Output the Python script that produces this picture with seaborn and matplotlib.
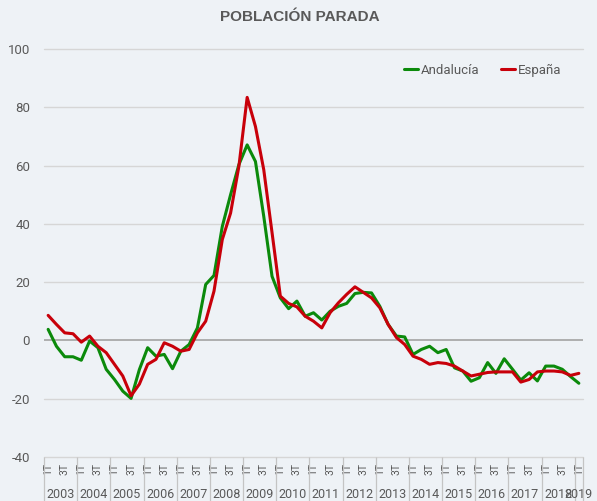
import numpy as np
import pandas as pd
import matplotlib
matplotlib.use("Agg")
import matplotlib.pyplot as plt
import matplotlib.transforms as mtransforms
import seaborn as sns

years = list(range(2003, 2020))
quarters = ["1T", "2T", "3T", "4T"]
periods = [f"{q} {y}" for y in years for q in quarters][:65]

andalucia = [3.8, -2, -5.6, -5.6, -6.8, -0.2, -2.5, -9.9, -13.4, -17.4,
             -19.9, -10, -2.5, -5.4, -4.8, -9.7, -3.7, -1.4, 4.3, 19.2,
             22.3, 39.1, 50, 60.3, 67.1, 61.4, 42.6, 22, 14.6, 10.9,
             13.5, 8.3, 9.5, 7, 10, 11.7, 12.7, 16.1, 16.5, 16.3,
             11.7, 5.5, 1.5, 1.2, -4.8, -3.1, -2, -4.2, -3.1, -9.4,
             -10.5, -14, -12.8, -7.6, -11.3, -6.3, -9.9, -13.6, -11.1, -13.9,
             -8.8, -8.8, -9.9, -12.4, -14.7]
espana = [8.6, 5.5, 2.6, 2.3, -0.6, 1.5, -2, -4.2, -8.2, -12.2,
          -19, -15, -8.2, -6.5, -0.8, -2, -3.7, -3.1, 2.6, 6.6,
          16.9, 34.6, 43.7, 59.7, 83.4, 73.4, 58.6, 37, 15.2, 12.7,
          11.5, 8.3, 6.6, 4.3, 9.5, 12.9, 15.8, 18.4, 16.5, 14.6,
          11.2, 5.5, 1, -1.4, -5.4, -6.5, -8.2, -7.6, -7.9, -8.8,
          -10.5, -12.2, -11.6, -11, -10.8, -10.8, -10.8, -14.3, -13.4, -10.8,
          -10.5, -10.5, -10.8, -12, -11.3]
series_names = ["Andalucía", "España"]
colors = ["#0b8a0b", "#c8000a"]
y_ticks = [-40, -20, 0, 20, 40, 60, 80, 100]

bg = "#eef2f6"
txt = "#595959"

n = len(periods)
idx = np.arange(n)
df = pd.DataFrame({
    "i": np.concatenate([idx, idx]),
    "valor": andalucia + espana,
    "serie": [series_names[0]] * n + [series_names[1]] * n,
})

sns.set_theme(style="white")
plt.rcParams["font.family"] = ["Roboto", "DejaVu Sans"]

fig = plt.figure(figsize=(5.97, 5.01), dpi=100, facecolor=bg)
ax = fig.add_axes([44 / 597, 1 - 457 / 501, (583 - 44) / 597, (457 - 49) / 501])
ax.set_facecolor(bg)

sns.lineplot(data=df, x="i", y="valor", hue="serie", palette=colors,
             linewidth=2.2, ax=ax, legend=True)

ax.set_xlim(-0.5, n - 0.5)
ax.set_ylim(-40, 100)
ax.set_yticks(y_ticks)
ax.set_yticklabels([str(v) for v in y_ticks], color=txt, fontsize=9.5)
for v in y_ticks:
    if v == 0:
        ax.axhline(v, color="#a3a3a3", lw=1.2, zorder=1)
    else:
        ax.axhline(v, color="#d6d6d6", lw=1.0, zorder=0, clip_on=False)

for s in ax.spines.values():
    s.set_visible(False)

# quarter tick labels (1T, 3T)
maj = [i for i, p in enumerate(periods) if p.startswith("1T") or p.startswith("3T")]
ax.set_xticks(maj)
ax.set_xticklabels([periods[i].split()[0] for i in maj], rotation=90,
                   fontsize=7.5, color=txt)
# year separators
bounds = [i - 0.5 for i, p in enumerate(periods) if p.startswith("1T")] + [n - 0.5]
ax.set_xticks(bounds, minor=True)
ax.tick_params(axis="x", which="both", bottom=True)
ax.tick_params(axis="x", which="major", length=0, pad=4)
ax.tick_params(axis="x", which="minor", length=33, width=0.9, color="#c4c4c4")
ax.tick_params(axis="y", length=0, pad=10)
ax.set_xlabel("")
ax.set_ylabel("")

trans = mtransforms.blended_transform_factory(ax.transData, ax.transAxes)
for y in years:
    pos = [i for i, p in enumerate(periods) if p.endswith(str(y))]
    if pos:
        ax.text((pos[0] + pos[-1]) / 2, -0.093, str(y), transform=trans,
                ha="center", va="center", fontsize=9, color=txt, clip_on=False)

h, l = ax.get_legend_handles_labels()
ax.legend(h, l, loc="center right", bbox_to_anchor=(0.94, 1 - 70 / 501),
          bbox_transform=fig.transFigure, ncol=2, frameon=False, fontsize=9.5,
          handlelength=1.1, handletextpad=0.2, columnspacing=1.6,
          borderpad=0, borderaxespad=0, labelcolor=txt)

fig.text(0.503, 1 - 17 / 501, "POBLACIÓN PARADA", ha="center", va="center",
         fontsize=11, fontweight="bold", color=txt, family="Liberation Sans")

fig.savefig("out.png", dpi=100, facecolor=bg)
